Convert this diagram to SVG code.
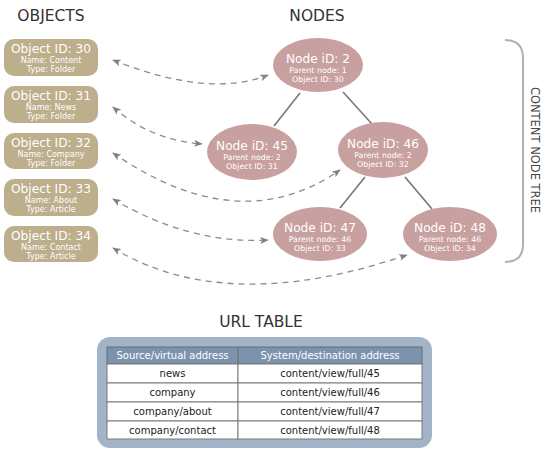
<svg xmlns="http://www.w3.org/2000/svg" width="550" height="452" viewBox="0 0 550 452">
<defs>
<marker id="ah" viewBox="0 0 10 8" refX="9" refY="4" markerWidth="9" markerHeight="7" markerUnits="userSpaceOnUse" orient="auto-start-reverse">
<path d="M0,0 L10,4 L0,8 L2.5,4 z" fill="#808080"/>
</marker>
</defs>
<style>
text{font-family:"DejaVu Sans","Liberation Sans",sans-serif}
.h{font-size:15.5px;fill:#333;text-anchor:middle}
.obj rect{fill:#bdae8c}
.node ellipse{fill:#c8a0a0}
.t1{font-size:12.2px;fill:#fff;text-anchor:middle}
.t2{font-size:8px;fill:#fff;text-anchor:middle}
.nt1{font-size:12.2px;fill:#fff;text-anchor:middle}
.nt2{font-size:7.9px;fill:#fff;text-anchor:middle}
.tree line{stroke:#777;stroke-width:1.6}
.dash path{fill:none;stroke:#8a8a8a;stroke-width:1.3;stroke-dasharray:6 5;marker-start:url(#ah);marker-end:url(#ah)}
.tt{font-size:10px;text-anchor:middle;fill:#222}
.th{font-size:10px;text-anchor:middle;fill:#fff}
.cell{fill:#fff;stroke:#7a7a7a;stroke-width:1}
</style>
<rect width="550" height="452" fill="#fff"/>
<text class="h" x="51" y="21">OBJECTS</text>
<text class="h" x="317" y="21">NODES</text>
<text class="h" x="261" y="327">URL TABLE</text>

<g id="obj30" class="obj"><rect x="4" y="39" width="94" height="37" rx="10"/><text class="t1" x="51" y="53">Object ID: 30</text><text class="t2" x="51" y="63">Name: Content</text><text class="t2" x="51" y="72">Type: Folder</text></g>
<g id="obj31" class="obj"><rect x="4" y="86" width="94" height="37" rx="10"/><text class="t1" x="51" y="100">Object ID: 31</text><text class="t2" x="51" y="110">Name: News</text><text class="t2" x="51" y="119">Type: Folder</text></g>
<g id="obj32" class="obj"><rect x="4" y="133" width="94" height="36" rx="10"/><text class="t1" x="51" y="147">Object ID: 32</text><text class="t2" x="51" y="157">Name: Company</text><text class="t2" x="51" y="166">Type: Folder</text></g>
<g id="obj33" class="obj"><rect x="4" y="179" width="94" height="37" rx="10"/><text class="t1" x="51" y="193">Object ID: 33</text><text class="t2" x="51" y="203">Name: About</text><text class="t2" x="51" y="212">Type: Article</text></g>
<g id="obj34" class="obj"><rect x="4" y="226" width="94" height="36" rx="10"/><text class="t1" x="51" y="240">Object ID: 34</text><text class="t2" x="51" y="250">Name: Contact</text><text class="t2" x="51" y="259">Type: Article</text></g>

<g id="connectors">
<g class="tree">
<line x1="300" y1="93" x2="274" y2="126"/>
<line x1="343" y1="92" x2="372" y2="124"/>
<line x1="365" y1="177" x2="340" y2="208"/>
<line x1="405" y1="177" x2="432" y2="209"/>
</g>
<g class="dash">
<path d="M113,60 Q209.5,98.5 268,75"/>
<path d="M113,107 Q150,140 202,144"/>
<path d="M113,153 Q239.5,240 340,170"/>
<path d="M113,199 Q189.5,244.5 268,240"/>
<path d="M113,248 Q226,316.5 407,255"/>
</g>
<path d="M505,40 Q523,40 523,58 L523,244 Q523,262 505,262" fill="none" stroke="#b0b0b0" stroke-width="2"/>
</g>

<g id="node2" class="node"><ellipse cx="318" cy="65" rx="45" ry="27"/><text class="nt1" x="318" y="63">Node iD: 2</text><text class="nt2" x="318" y="73">Parent node: 1</text><text class="nt2" x="318" y="82">Object ID: 30</text></g>
<g id="node45" class="node"><ellipse cx="252" cy="152" rx="45" ry="28"/><text class="nt1" x="252" y="150">Node iD: 45</text><text class="nt2" x="252" y="160">Parent node: 2</text><text class="nt2" x="252" y="169">Object ID: 31</text></g>
<g id="node46" class="node"><ellipse cx="383" cy="150" rx="45" ry="28"/><text class="nt1" x="383" y="148">Node iD: 46</text><text class="nt2" x="383" y="158">Parent node: 2</text><text class="nt2" x="383" y="167">Object ID: 32</text></g>
<g id="node47" class="node"><ellipse cx="320" cy="234" rx="47" ry="27"/><text class="nt1" x="320" y="232">Node iD: 47</text><text class="nt2" x="320" y="242">Parent node: 46</text><text class="nt2" x="320" y="251">Object ID: 33</text></g>
<g id="node48" class="node"><ellipse cx="450" cy="234" rx="47" ry="27"/><text class="nt1" x="450" y="232">Node iD: 48</text><text class="nt2" x="450" y="242">Parent node: 46</text><text class="nt2" x="450" y="251">Object ID: 34</text></g>

<text x="531" y="150" transform="rotate(90 531 150)" style="font-size:11.5px;fill:#444;text-anchor:middle">CONTENT NODE TREE</text>

<g id="urltable">
<rect x="97" y="337" width="335" height="111" rx="13" fill="#a2b5c8"/>
<rect x="107" y="347" width="315" height="17" fill="#7b93ae" stroke="#6a6a6a" stroke-width="1"/>
<line x1="238" y1="347" x2="238" y2="364" stroke="#6a6a6a"/>
<text class="th" x="172.5" y="359">Source/virtual address</text>
<text class="th" x="330" y="359">System/destination address</text>
<rect class="cell" x="107" y="364" width="131" height="19"/><rect class="cell" x="238" y="364" width="184" height="19"/>
<rect class="cell" x="107" y="383" width="131" height="19"/><rect class="cell" x="238" y="383" width="184" height="19"/>
<rect class="cell" x="107" y="402" width="131" height="19"/><rect class="cell" x="238" y="402" width="184" height="19"/>
<rect class="cell" x="107" y="421" width="131" height="18"/><rect class="cell" x="238" y="421" width="184" height="18"/>
<text class="tt" x="172.5" y="377">news</text><text class="tt" x="330" y="377">content/view/full/45</text>
<text class="tt" x="172.5" y="396">company</text><text class="tt" x="330" y="396">content/view/full/46</text>
<text class="tt" x="172.5" y="415">company/about</text><text class="tt" x="330" y="415">content/view/full/47</text>
<text class="tt" x="172.5" y="434">company/contact</text><text class="tt" x="330" y="434">content/view/full/48</text>
</g>
</svg>
